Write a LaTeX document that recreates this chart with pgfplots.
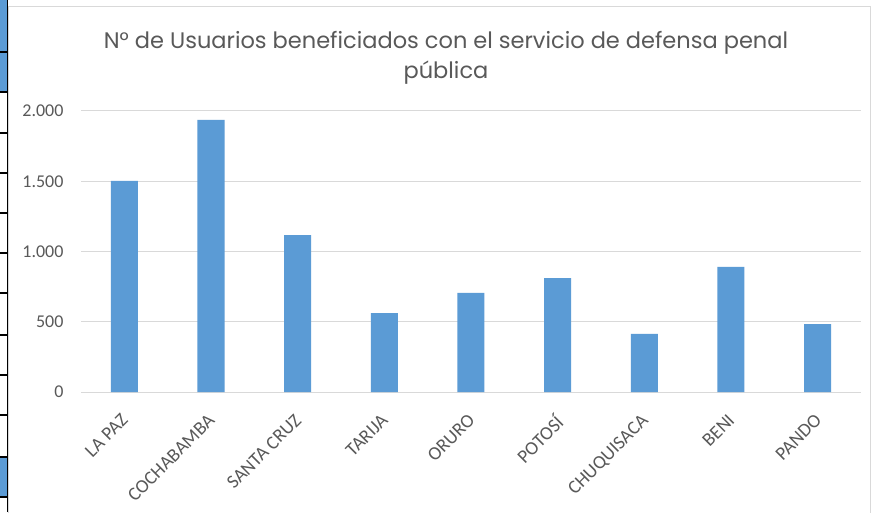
\documentclass[border=0pt]{standalone}
\usepackage{pgfplots}
\pgfplotsset{compat=1.18}
\usepackage{fontspec}
\setmainfont{Carlito}
\newfontfamily\titlefont{Poppins}
\definecolor{barblue}{HTML}{5B9BD5}
\definecolor{gridgray}{HTML}{D9D9D9}
\definecolor{txt}{HTML}{595959}
\begin{document}
\begin{tikzpicture}[x=1pt,y=1pt]
\useasboundingbox (0,0) rectangle (873,512);
\fill[white] (0,0) rectangle (873,512);
% left strip (spreadsheet cells visible at the edge)
\fill[barblue] (0,420) rectangle (7,512);
\fill[barblue] (0,15) rectangle (7,55);
\foreach \yy in {460,420,379,339,299,259,219,177,137,97,55,15}
  \draw[black, line width=1.2pt] (0,\yy) -- (7,\yy);
\draw[black, line width=1pt] (7,0) -- (7,512);
% chart border
\draw[gridgray, line width=1pt] (8,-2) rectangle (870,505);
\begin{axis}[
  at={(81pt,120pt)}, anchor=south west,
  scale only axis, width=780pt, height=281pt,
  xmin=-0.5, xmax=8.5, ymin=0, ymax=2000,
  ytick={0,500,1000,1500,2000},
  xtick={0,1,2,3,4,5,6,7,8},
  xticklabels={LA PAZ,COCHABAMBA,SANTA CRUZ,TARIJA,ORURO,POTOSÍ,CHUQUISACA,BENI,PANDO},
  xticklabel style={xshift=-4pt, yshift=-16pt, rotate=45, anchor=north east, font=\fontsize{19}{19}\selectfont, text=txt},
  yticklabel style={font=\fontsize{18}{18}\selectfont, text=txt, xshift=-14pt},
  /pgf/number format/.cd, 1000 sep={.}, assume math mode=true, /pgfplots/.cd,
  ymajorgrids, grid style={gridgray, line width=1pt},
  axis x line*=bottom, axis y line*=left,
  y axis line style={draw=none},
  x axis line style={gridgray, line width=1pt, -},
  major tick length=0pt,
  ybar, bar width=27pt,
  clip=false,
]
\addplot[fill=barblue, draw=none] coordinates {
 (0,1502) (1,1936) (2,1117) (3,562) (4,705) (5,811) (6,413) (7,890) (8,484)};
\end{axis}
\node[text=txt, align=center, font=\titlefont\fontsize{22.5}{30}\selectfont] at (446,454)
 {N° de Usuarios beneficiados con el servicio de defensa penal\\pública};
\end{tikzpicture}
\end{document}
